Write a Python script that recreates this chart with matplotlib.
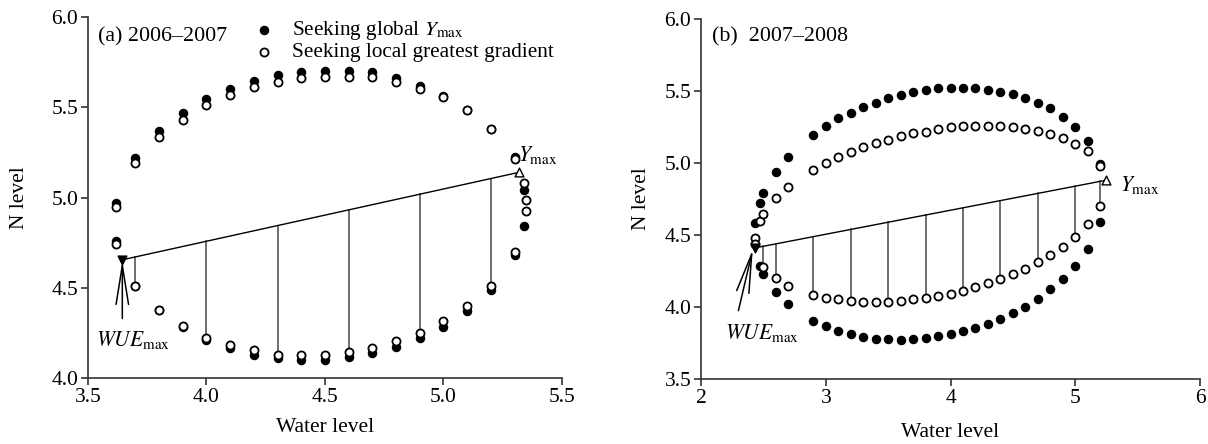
import numpy as np
import matplotlib
matplotlib.use("Agg")
import matplotlib.pyplot as plt

plt.rcParams['font.family'] = ['Liberation Serif', 'DejaVu Serif']
plt.rcParams['mathtext.fontset'] = 'stix'

# ---- panel (a) 2006-2007 ----
a_x_glob = [3.62, 3.70, 3.80, 3.90, 4.00, 4.10, 4.20, 4.30, 4.40, 4.50, 4.60, 4.70, 4.80,
            4.90, 5.00, 5.10, 5.20, 5.30, 5.34,
            3.62, 3.70, 3.80, 3.90, 4.00, 4.10, 4.20, 4.30, 4.40, 4.50, 4.60, 4.70, 4.80,
            4.90, 5.00, 5.10, 5.20, 5.30, 5.34]
a_y_glob = [4.97, 5.22, 5.37, 5.47, 5.545, 5.60, 5.645, 5.68, 5.695, 5.70, 5.70, 5.695, 5.66,
            5.62, 5.56, 5.483, 5.38, 5.225, 5.04,
            4.757, 4.511, 4.376, 4.28, 4.21, 4.165, 4.13, 4.11, 4.10, 4.10, 4.117, 4.14, 4.174,
            4.224, 4.285, 4.372, 4.487, 4.68, 4.84]
a_x_loc = [3.62, 3.70, 3.80, 3.90, 4.00, 4.10, 4.20, 4.30, 4.40, 4.50, 4.60, 4.70, 4.80,
           4.90, 5.00, 5.10, 5.20, 5.30, 5.34, 5.35,
           3.62, 3.70, 3.80, 3.90, 4.00, 4.10, 4.20, 4.30, 4.40, 4.50, 4.60, 4.70, 4.80,
           4.90, 5.00, 5.10, 5.20, 5.30, 5.35]
a_y_loc = [4.95, 5.19, 5.335, 5.43, 5.51, 5.57, 5.61, 5.64, 5.66, 5.67, 5.67, 5.668, 5.64,
           5.604, 5.557, 5.483, 5.38, 5.215, 5.08, 4.987,
           4.742, 4.511, 4.376, 4.29, 4.224, 4.183, 4.154, 4.13, 4.128, 4.13, 4.146, 4.168, 4.205,
           4.25, 4.317, 4.398, 4.511, 4.696, 4.928]
a_wue = (3.645, 4.655)
a_ymax = (5.32, 5.14)
a_drops = [3.70, 4.00, 4.30, 4.60, 4.90, 5.20]

# ---- panel (b) 2007-2008 ----
b_x_glob = [2.43, 2.47, 2.50, 2.60, 2.70, 2.90, 3.00, 3.10, 3.20, 3.30, 3.40, 3.50, 3.60,
            3.70, 3.80, 3.90, 4.00, 4.10, 4.20, 4.30, 4.40, 4.50, 4.60, 4.70, 4.80, 4.90,
            5.00, 5.10, 5.20,
            2.47, 2.50, 2.60, 2.70, 2.90, 3.00, 3.10, 3.20, 3.30, 3.40, 3.50, 3.60,
            3.70, 3.80, 3.90, 4.00, 4.10, 4.20, 4.30, 4.40, 4.50, 4.60, 4.70, 4.80, 4.90,
            5.00, 5.10, 5.20]
b_y_glob = [4.58, 4.72, 4.79, 4.94, 5.044, 5.194, 5.257, 5.31, 5.35, 5.39, 5.42, 5.45, 5.474,
            5.493, 5.507, 5.52, 5.523, 5.523, 5.52, 5.51, 5.495, 5.477, 5.45, 5.42, 5.38, 5.32,
            5.25, 5.155, 4.99,
            4.285, 4.23, 4.106, 4.02, 3.905, 3.868, 3.833, 3.81, 3.794, 3.78, 3.776, 3.773,
            3.776, 3.785, 3.797, 3.81, 3.833, 3.857, 3.882, 3.92, 3.956, 4.002, 4.056, 4.123, 4.195,
            4.285, 4.40, 4.588]
b_x_loc = [2.43, 2.47, 2.50, 2.60, 2.70, 2.90, 3.00, 3.10, 3.20, 3.30, 3.40, 3.50, 3.60,
           3.70, 3.80, 3.90, 4.00, 4.10, 4.20, 4.30, 4.40, 4.50, 4.60, 4.70, 4.80, 4.90,
           5.00, 5.10, 5.20,
           2.43, 2.50, 2.60, 2.70, 2.90, 3.00, 3.10, 3.20, 3.30, 3.40, 3.50, 3.60,
           3.70, 3.80, 3.90, 4.00, 4.10, 4.20, 4.30, 4.40, 4.50, 4.60, 4.70, 4.80, 4.90,
           5.00, 5.10, 5.20]
b_y_loc = [4.477, 4.60, 4.646, 4.755, 4.836, 4.95, 4.998, 5.04, 5.075, 5.11, 5.14, 5.16, 5.188,
           5.206, 5.217, 5.234, 5.25, 5.255, 5.257, 5.255, 5.255, 5.25, 5.235, 5.22, 5.20, 5.175,
           5.13, 5.08, 4.98,
           4.44, 4.28, 4.20, 4.146, 4.083, 4.065, 4.054, 4.042, 4.037, 4.037, 4.037, 4.044,
           4.054, 4.062, 4.076, 4.092, 4.113, 4.139, 4.165, 4.194, 4.229, 4.266, 4.31, 4.36, 4.415,
           4.484, 4.574, 4.70]
b_wue = (2.43, 4.41)
b_ymax = (5.245, 4.88)
b_drops = [2.50, 2.60, 2.90, 3.20, 3.50, 3.80, 4.10, 4.40, 4.70, 5.00, 5.20]

fig = plt.figure(figsize=(12.08, 4.44), dpi=100)
ax_a = fig.add_axes([0.0728, 0.1486, 0.3924, 0.813])
ax_b = fig.add_axes([0.5803, 0.1464, 0.4131, 0.8108])

MS = 34


def lower_loc(xs, ys, x):
    # lowest open point at a given water level
    cand = [y for xx, y in zip(xs, ys) if abs(xx - x) < 1e-6]
    return min(cand)


def draw_panel(ax, xg, yg, xl, yl, wue, ymax, drops):
    # line between WUEmax and Ymax
    ax.plot([wue[0], ymax[0]], [wue[1], ymax[1]], color='black', lw=1.0, zorder=2)
    # drop lines down to the local points
    for x in drops:
        top = np.interp(x, [wue[0], ymax[0]], [wue[1], ymax[1]])
        ax.plot([x, x], [top, lower_loc(xl, yl, x)], color='#555555', lw=1.2, zorder=1)
    ax.scatter(xg, yg, s=MS, c='black', edgecolors='black', linewidths=1.0, zorder=3,
               label=r'Seeking global $\it{Y}_{\rm max}$')
    ax.scatter(xl, yl, s=MS, c='white', edgecolors='black', linewidths=1.3, zorder=4,
               label='Seeking local greatest gradient')
    ax.scatter([wue[0]], [wue[1]], marker='v', s=40, c='black', zorder=5)
    ax.scatter([ymax[0]], [ymax[1]], marker='^', s=40, c='white', edgecolors='black',
               linewidths=1.0, zorder=5)
    for s in ['top', 'right']:
        ax.spines[s].set_visible(False)
    for s in ['left', 'bottom']:
        ax.spines[s].set_linewidth(1.2)
        ax.spines[s].set_color('#333333')
    ax.tick_params(direction='out', length=5, width=1.2, labelsize=15.5, color='#333333',
                   pad=2)
    ax.set_xlabel('Water level', fontsize=15.5, va='top')
    ax.set_ylabel('N level', fontsize=15.5)


arrow = dict(arrowstyle='->,head_length=2.8,head_width=0.45', lw=1.1, color='black',
             shrinkA=0, shrinkB=0)

# panel (a)
draw_panel(ax_a, a_x_glob, a_y_glob, a_x_loc, a_y_loc, a_wue, a_ymax, a_drops)
ax_a.set_xlim(3.5, 5.5)
ax_a.set_ylim(4.0, 6.0)
ax_a.set_xticks([3.5, 4.0, 4.5, 5.0, 5.5])
ax_a.set_yticks([4.0, 4.5, 5.0, 5.5, 6.0])
ax_a.set_xticklabels(['3.5', '4.0', '4.5', '5.0', '5.5'])
ax_a.set_yticklabels(['4.0', '4.5', '5.0', '5.5', '6.0'])
ax_a.text(0.021, 0.945, '(a) 2006\u20132007', transform=ax_a.transAxes, fontsize=15.8,
          va='center', ha='left')
ax_a.annotate('', xy=(3.645, 4.65), xytext=(3.645, 4.33), arrowprops=arrow)
ax_a.text(3.535, 4.21, r'$\it{WUE}_{\rm max}$', fontsize=15.5, va='center', ha='left')
ax_a.text(5.315, 5.235, r'$\it{Y}_{\rm max}$', fontsize=15.5, va='center', ha='left')
ax_a.yaxis.set_label_coords(-0.125, 0.5)
ax_a.xaxis.set_label_coords(0.5, -0.112)
ax_a.legend(loc='upper left', bbox_to_anchor=(0.339, 1.0), frameon=False, fontsize=15.3,
            handletextpad=0.75, labelspacing=0.02, borderaxespad=0, handlelength=1.2,
            borderpad=0.1)

# panel (b)
draw_panel(ax_b, b_x_glob, b_y_glob, b_x_loc, b_y_loc, b_wue, b_ymax, b_drops)
ax_b.set_xlim(2, 6)
ax_b.set_ylim(3.5, 6.0)
ax_b.set_xticks([2, 3, 4, 5, 6])
ax_b.set_yticks([3.5, 4.0, 4.5, 5.0, 5.5, 6.0])
ax_b.set_yticklabels(['3.5', '4.0', '4.5', '5.0', '5.5', '6.0'])
ax_b.text(0.022, 0.95, '(b)  2007\u20132008', transform=ax_b.transAxes, fontsize=15.8,
          va='center', ha='left')
ax_b.annotate('', xy=(2.415, 4.40), xytext=(2.30, 3.975), arrowprops=arrow)
ax_b.text(2.19, 3.82, r'$\it{WUE}_{\rm max}$', fontsize=15.5, va='center', ha='left')
ax_b.text(5.355, 4.85, r'$\it{Y}_{\rm max}$', fontsize=15.5, va='center', ha='left')
ax_b.yaxis.set_label_coords(-0.1, 0.5)
ax_b.xaxis.set_label_coords(0.5, -0.122)

fig.savefig('out.png', dpi=100)
